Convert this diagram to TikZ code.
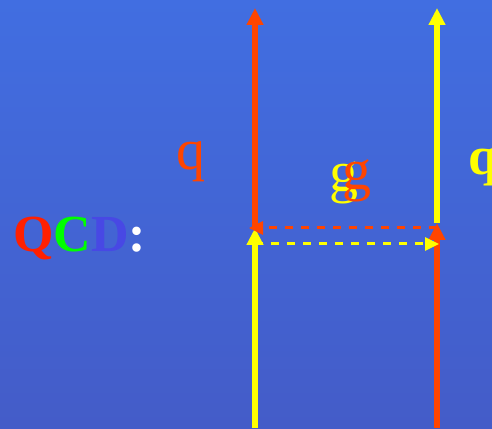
\documentclass[tikz,border=0pt]{standalone}
\usepackage{fontspec}
\setmainfont{Liberation Serif}
\usetikzlibrary{arrows.meta}

\definecolor{bgtop}{RGB}{65,110,225}
\definecolor{bgbot}{RGB}{68,92,200}
\definecolor{quarkred}{RGB}{255,69,0}
\definecolor{quarkyellow}{RGB}{255,255,0}
\definecolor{qcdred}{RGB}{255,32,0}
\definecolor{qcdgreen}{RGB}{0,255,0}
\definecolor{qcdblue}{RGB}{72,72,228}

\begin{document}
\begin{tikzpicture}[
    x=1pt, y=1pt,
    quark/.style={
        line width=6pt,
        -{Triangle[width=16pt,length=17pt]}
    },
    gluon/.style={
        line width=3pt,
        dash pattern=on 8pt off 8pt,
        -{Triangle[width=13pt,length=14pt]}
    },
    label/.style={
        inner sep=0pt,
        anchor=base,
        font=\fontsize{58}{58}\selectfont
    }
]

% --- Background ---
\shade[top color=bgtop, bottom color=bgbot] (0,0) rectangle (492,428);
\useasboundingbox (0,0) rectangle (492,428);

% --- Points on the two lines ---
\coordinate (Lbot) at (255,0);
\coordinate (Lmid) at (255,200);
\coordinate (Ltop) at (255,420);
\coordinate (Rbot) at (437,0);
\coordinate (Rmid) at (437,205);
\coordinate (Rtop) at (437,420);
\coordinate (Rhi) at (437,200);
\coordinate (Lend) at (249,200);
\coordinate (Llo) at (255,184);
\coordinate (Rend) at (439,184);

% --- Quark lines ---
\draw[quark, quarkyellow] (Lbot) -- (Lmid);
\draw[quark, quarkred] (Lmid) -- (Ltop);
\draw[quark, quarkred] (Rbot) -- (Rmid);
\draw[quark, quarkyellow] (Rmid) -- (Rtop);

% --- Gluon exchange ---
\draw[gluon, quarkred] (Rhi) -- (Lend);
\draw[gluon, quarkyellow] (Llo) -- (Rend);

% --- Labels ---
\node[label, text=quarkred] (qleft) at (191,258) {q};
\node[label, text=quarkyellow, font=\fontsize{54}{54}\selectfont\bfseries, anchor=base west] (qright) at (468,253) {q};
\node[label, text=quarkyellow, anchor=base west] (gyellow) at (329,236) {g};
\node[label, text=quarkred, anchor=base west] (gred) at (342,238) {g};
\node[label, anchor=base west, font=\fontsize{52}{52}\selectfont\bfseries] (qcd) at (13,176)
    {\textcolor{qcdred}{Q}\textcolor{qcdgreen}{C}\textcolor{qcdblue}{D}\textcolor{white}{:}};

\end{tikzpicture}
\end{document}
